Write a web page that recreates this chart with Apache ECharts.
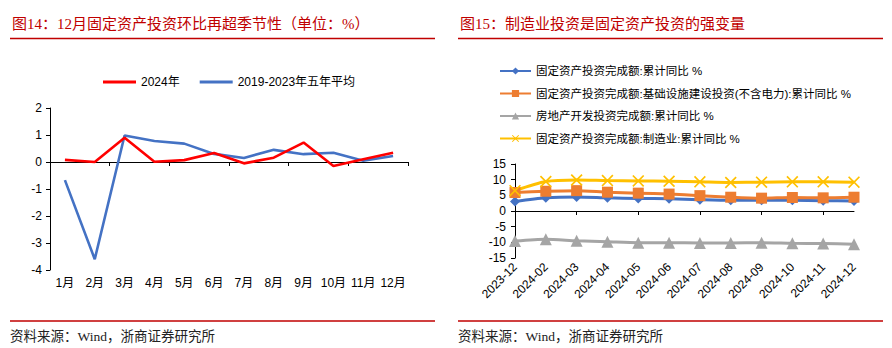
<!DOCTYPE html>
<html>
<head>
<meta charset="utf-8">
<script src="https://cdn.jsdelivr.net/npm/echarts@6/dist/echarts.min.js"></script>
<style>
  html, body { margin: 0; padding: 0; background: #fff; }
  #chart { width: 892px; height: 348px; }
</style>
</head>
<body>
<div id="chart"></div>
<script>
// Monthly FAI change vs. five-year seasonal average (%)
const months = ['1月','2月','3月','4月','5月','6月','7月','8月','9月','10月','11月','12月'];
const mom2024 = [0.08, 0.0, 0.9, 0.01, 0.07, 0.33, -0.05, 0.16, 0.72, -0.15, 0.1, 0.34];
const momAvg5y = [-0.67, -3.6, 0.98, 0.78, 0.68, 0.3, 0.15, 0.45, 0.29, 0.34, 0.05, 0.22];

// Cumulative YoY growth by investment segment (%)
const periods = ['2023-12','2024-02','2024-03','2024-04','2024-05','2024-06','2024-07','2024-08','2024-09','2024-10','2024-11','2024-12'];
const faiTotal = [3.0, 4.2, 4.5, 4.2, 4.0, 3.9, 3.6, 3.4, 3.4, 3.4, 3.3, 3.2];
const faiInfra = [5.9, 6.3, 6.5, 6.0, 5.7, 5.4, 4.9, 4.4, 4.1, 4.3, 4.2, 4.4];
const faiRealEstate = [-9.6, -9.0, -9.5, -9.8, -10.1, -10.1, -10.2, -10.2, -10.1, -10.3, -10.4, -10.6];
const faiManufacturing = [6.5, 9.4, 9.9, 9.7, 9.6, 9.5, 9.3, 9.1, 9.2, 9.3, 9.3, 9.2];

const namesLeft = ['2024年', '2019-2023年五年平均'];
const namesRight = [
  '固定资产投资完成额:累计同比 %',
  '固定资产投资完成额:基础设施建设投资(不含电力):累计同比 %',
  '房地产开发投资完成额:累计同比 %',
  '固定资产投资完成额:制造业:累计同比 %'
];

const SANS = '"Liberation Sans", Arial, "Noto Sans CJK SC", sans-serif';
const SERIF = '"Liberation Serif", "Times New Roman", "Noto Sans CJK SC", serif';
const RED = '#c00000';
const AXIS = { lineStyle: { color: '#000', width: 1 } };
const LABEL = { color: '#000', fontSize: 12, fontFamily: SANS };
const TICK = { show: true, length: 4, lineStyle: { color: '#000' } };
const CROSS = 'path://M0,1 L1,0 L5,4 L9,0 L10,1 L6,5 L10,9 L9,10 L5,6 L1,10 L0,9 L4,5 Z';

const chart = echarts.init(document.getElementById('chart'), null, { renderer: 'svg' });

function headerAndFooter(x0, x1, title) {
  return [
    { type: 'text', x: x0 + 2, y: 24, style: { text: title, fill: RED, font: '15px ' + SERIF, verticalAlign: 'middle' } },
    { type: 'line', shape: { x1: x0, y1: 38.5, x2: x1, y2: 38.5 }, style: { stroke: RED, lineWidth: 1.5 } },
    { type: 'line', shape: { x1: x0, y1: 321, x2: x1, y2: 321 }, style: { stroke: RED, lineWidth: 1.5 } },
    { type: 'text', x: x0, y: 336, style: { text: '资料来源：Wind，浙商证券研究所', fill: '#222', font: '13.5px ' + SERIF, verticalAlign: 'middle' } }
  ];
}

chart.setOption({
  animation: false,
  graphic: [
    ...headerAndFooter(10, 435, '图14：12月固定资产投资环比再超季节性（单位：%）'),
    ...headerAndFooter(458, 883, '图15：制造业投资是固定资产投资的强变量')
  ],
  legend: [
    {
      data: [
        { name: namesLeft[0], itemStyle: { color: '#ff0000' } },
        { name: namesLeft[1], itemStyle: { color: '#4472c4' } }
      ],
      icon: 'rect', left: 98, top: 71, itemWidth: 33, itemHeight: 3, itemGap: 20,
      textStyle: { color: '#000', fontSize: 12, fontFamily: SANS }
    },
    {
      data: namesRight, orient: 'vertical', left: 494, top: 59, itemWidth: 31, itemHeight: 9, itemGap: 8.5,
      textStyle: { color: '#000', fontSize: 11.5, fontFamily: SANS, lineHeight: 14 }
    }
  ],
  grid: [
    { left: 50, top: 108, width: 358, height: 162 },
    { left: 515, top: 164, width: 339, height: 94 }
  ],
  xAxis: [
    {
      gridIndex: 0, type: 'category', data: months, boundaryGap: true,
      axisLine: { ...AXIS, onZero: true }, axisTick: TICK,
      axisLabel: { show: false }, splitLine: { show: false }
    },
    {
      gridIndex: 0, type: 'category', data: months, boundaryGap: true, position: 'bottom',
      axisLine: { show: false, onZero: false }, axisTick: { show: false },
      axisLabel: { ...LABEL, margin: 7, interval: 0 }, splitLine: { show: false }
    },
    {
      gridIndex: 1, type: 'category', data: periods, boundaryGap: false,
      axisLine: { ...AXIS, onZero: true }, axisTick: TICK,
      axisLabel: { show: false }, splitLine: { show: false }
    },
    {
      gridIndex: 1, type: 'category', data: periods, boundaryGap: false, position: 'bottom',
      axisLine: { show: false, onZero: false }, axisTick: { show: false },
      axisLabel: { ...LABEL, rotate: 45, margin: 7, interval: 0 }, splitLine: { show: false }
    }
  ],
  yAxis: [
    {
      gridIndex: 0, type: 'value', min: -4, max: 2, interval: 1,
      axisLine: { show: true, ...AXIS }, axisTick: TICK,
      axisLabel: { ...LABEL, margin: 8 }, splitLine: { show: false }
    },
    {
      gridIndex: 1, type: 'value', min: -15, max: 15, interval: 5,
      axisLine: { show: true, ...AXIS }, axisTick: TICK,
      axisLabel: { ...LABEL, margin: 9 }, splitLine: { show: false }
    }
  ],
  series: [
    {
      name: namesLeft[0], type: 'line', xAxisIndex: 0, yAxisIndex: 0, data: mom2024,
      symbol: 'none', lineStyle: { color: '#ff0000', width: 2.6 }, itemStyle: { color: '#ff0000' }, z: 3
    },
    {
      name: namesLeft[1], type: 'line', xAxisIndex: 0, yAxisIndex: 0, data: momAvg5y,
      symbol: 'none', lineStyle: { color: '#4472c4', width: 2.6 }, itemStyle: { color: '#4472c4' }, z: 2
    },
    {
      name: namesRight[0], type: 'line', xAxisIndex: 2, yAxisIndex: 1, data: faiTotal, smooth: 0.25,
      symbol: 'diamond', symbolSize: 10, lineStyle: { color: '#4472c4', width: 3 }, itemStyle: { color: '#4472c4' }
    },
    {
      name: namesRight[1], type: 'line', xAxisIndex: 2, yAxisIndex: 1, data: faiInfra, smooth: 0.25,
      symbol: 'rect', symbolSize: 11, lineStyle: { color: '#ed7d31', width: 3 }, itemStyle: { color: '#ed7d31' }
    },
    {
      name: namesRight[2], type: 'line', xAxisIndex: 2, yAxisIndex: 1, data: faiRealEstate, smooth: 0.25,
      symbol: 'triangle', symbolSize: 12, lineStyle: { color: '#a5a5a5', width: 3 }, itemStyle: { color: '#a5a5a5' }
    },
    {
      name: namesRight[3], type: 'line', xAxisIndex: 2, yAxisIndex: 1, data: faiManufacturing, smooth: 0.25,
      symbol: CROSS, symbolSize: 12, lineStyle: { color: '#ffc000', width: 3 }, itemStyle: { color: '#ffc000' }
    }
  ]
});
</script>
</body>
</html>
